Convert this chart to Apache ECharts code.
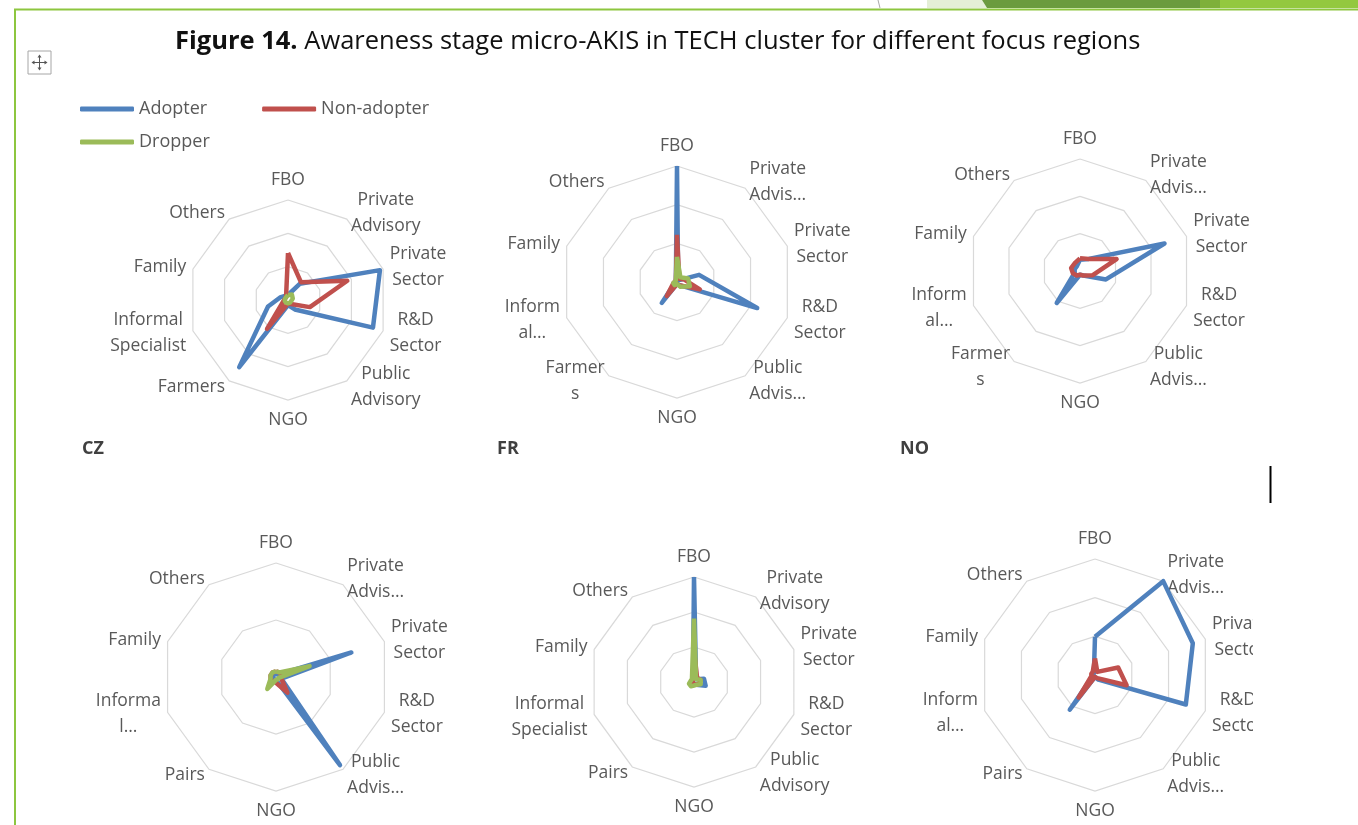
<!DOCTYPE html>
<html>
<head>
<meta charset="utf-8">
<title>Figure 14</title>
<script src="https://cdn.jsdelivr.net/npm/echarts@6/dist/echarts.min.js"></script>
<style>
  html, body { margin: 0; padding: 0; background: #fff; }
  #main { width: 1358px; height: 825px; }
</style>
</head>
<body>
<div id="main"></div>
<script>
// legend groups
const groups = ['Adopter', 'Non-adopter', 'Dropper'];
const groupColors = ['#4F81BD', '#C0504D', '#9BBB59'];

// axis labels, clockwise from the top (as wrapped/cut in the original)
const czLabels = ['FBO', 'Private\nAdvisory', 'Private\nSector', 'R&D\nSector', 'Public\nAdvisory', 'NGO', 'Farmers', 'Informal\nSpecialist', 'Family', 'Others'];
const frLabels = ['FBO', 'Private\nAdvis…', 'Private\nSector', 'R&D\nSector', 'Public\nAdvis…', 'NGO', 'Farmer\ns', 'Inform\nal…', 'Family', 'Others'];
const noLabels = ['FBO', 'Private\nAdvis…', 'Private\nSector', 'R&D\nSector', 'Public\nAdvis…', 'NGO', 'Farmer\ns', 'Inform\nal…', 'Family', 'Others'];
const blLabels = ['FBO', 'Private\nAdvis…', 'Private\nSector', 'R&D\nSector', 'Public\nAdvis…', 'NGO', 'Pairs', 'Informa\nl…', 'Family', 'Others'];
const bmLabels = ['FBO', 'Private\nAdvisory', 'Private\nSector', 'R&D\nSector', 'Public\nAdvisory', 'NGO', 'Pairs', 'Informal\nSpecialist', 'Family', 'Others'];
const brLabels = ['FBO', 'Private\nAdvis…', 'Private\nSector', 'R&D\nSector', 'Public\nAdvis…', 'NGO', 'Pairs', 'Inform\nal…', 'Family', 'Others'];

// values (same order as the labels)
const czAdopter    = [0.15, 0.6, 2.9, 2.68, 0.35, 0.15, 2.49, 0.63, 0.25, 0.15];
const czNonAdopter = [1.41, 0.66, 1.87, 0.69, 0.15, 0.1, 1.07, 0.15, 0.1, 0.1];
const czDropper    = [0.15, 0.2, 0.15, 0.1, 0.1, 0.1, 0.1, 0.1, 0.1, 0.1];

const frAdopter    = [3.0, 0.05, 0.6, 2.18, 0.1, 0.05, 0.67, 0.05, 0.05, 0.05];
const frNonAdopter = [1.22, 0.1, 0.2, 0.62, 0.1, 0.05, 0.45, 0.1, 0.05, 0.05];
const frDropper    = [0.65, 0.15, 0.3, 0.35, 0.15, 0.05, 0.1, 0.1, 0.05, 0.05];

const noAdopter    = [0.3, 0.4, 2.38, 0.73, 0.15, 0.1, 1.06, 0.15, 0.15, 0.15];
const noNonAdopter = [0.34, 0.4, 1.03, 0.36, 0.15, 0.1, 0.15, 0.2, 0.25, 0.25];
const noDropper    = [0, 0, 0, 0, 0, 0, 0, 0, 0, 0];

const blAdopter    = [0.05, 0.05, 1.39, 0.1, 1.91, 0.05, 0.05, 0.05, 0.05, 0.05];
const blNonAdopter = [0.1, 0.1, 0.1, 0.1, 0.34, 0.1, 0.1, 0.1, 0.1, 0.1];
const blDropper    = [0.1, 0.1, 0.62, 0.05, 0.05, 0.05, 0.26, 0.1, 0.1, 0.1];

const bmAdopter    = [3.0, 0.1, 0.3, 0.35, 0.1, 0.05, 0.05, 0.05, 0.05, 0.05];
const bmNonAdopter = [0.9, 0.15, 0.2, 0.15, 0.1, 0.05, 0.05, 0.05, 0.05, 0.05];
const bmDropper    = [1.81, 0.1, 0.2, 0.2, 0.1, 0.1, 0.15, 0.15, 0.1, 0.1];

const brAdopter    = [0.99, 3.0, 2.66, 2.47, 0.15, 0.05, 1.11, 0.05, 0.05, 0.05];
const brNonAdopter = [0.43, 0.1, 0.63, 0.86, 0.1, 0.05, 0.72, 0.1, 0.1, 0.1];
const brDropper    = [0, 0, 0, 0, 0, 0, 0, 0, 0, 0];

const regionNames = ['CZ', 'FR', 'NO'];

// echarts radar runs counter-clockwise, the original runs clockwise
function clockwise(arr) {
  return [arr[0]].concat(arr.slice(1).reverse());
}

const FONT = '"Open Sans", "DejaVu Sans", sans-serif';

function makeRadar(center, radius, labels, max, split) {
  return {
    center: center,
    radius: radius,
    startAngle: 90,
    shape: 'polygon',
    splitNumber: split,
    indicator: clockwise(labels).map(n => ({ name: n, min: 0, max: max })),
    axisName: {
      // each wrapped line centred inside its label block, like excel does
      formatter: v => v.split('\n').map(s => '{c|' + s + '}').join('\n'),
      color: '#595959', fontSize: 17.5, lineHeight: 26, fontFamily: FONT,
      rich: { c: { align: 'center', color: '#595959', fontSize: 17.5, lineHeight: 26, fontFamily: FONT } }
    },
    nameGap: 7,
    axisLine: { show: false },
    axisTick: { show: false },
    axisLabel: { show: false },
    splitArea: { show: false },
    splitLine: { lineStyle: { color: '#D9D9D9', width: 1.2 } }
  };
}

function makeSeries(idx, lists) {
  return {
    type: 'radar',
    radarIndex: idx,
    symbol: 'none',
    silent: true,
    data: lists.map((vals, k) => ({
      name: groups[k],
      value: clockwise(vals),
      itemStyle: { color: groupColors[k] },
      lineStyle: { color: groupColors[k], width: 4.5, join: 'round' }
    }))
  };
}

const chart = echarts.init(document.getElementById('main'));

const regionTitle = (name, x) => ({
  text: name, left: x, top: 440, padding: 0,
  textStyle: { fontFamily: FONT, fontSize: 18, fontWeight: 'bold', color: '#404040' }
});

const option = {
  animation: false,
  backgroundColor: '#fff',
  title: [
    {
      text: '{b|Figure 14.} Awareness stage micro-AKIS in TECH cluster for different focus regions',
      left: 175, top: 29, padding: 0,
      textStyle: {
        fontFamily: FONT, fontSize: 25.5, fontWeight: 'normal', color: '#111',
        rich: { b: { fontFamily: FONT, fontSize: 25.5, fontWeight: 'bold', color: '#111' } }
      }
    },
    regionTitle(regionNames[0], 82),
    regionTitle(regionNames[1], 497),
    regionTitle(regionNames[2], 900)
  ],
  legend: [
    {
      data: groups.slice(0, 2), left: 80, top: 100, padding: 0, icon: 'roundRect',
      itemWidth: 54, itemHeight: 5, itemGap: 55, selectedMode: false,
      textStyle: { fontFamily: FONT, fontSize: 18, color: '#595959' }
    },
    {
      data: groups.slice(2), left: 80, top: 133, padding: 0, icon: 'roundRect',
      itemWidth: 54, itemHeight: 5, selectedMode: false,
      textStyle: { fontFamily: FONT, fontSize: 18, color: '#595959' }
    }
  ],
  radar: [
    makeRadar([288, 300], 100, czLabels, 3, 3),
    makeRadar([677, 282], 116, frLabels, 3, 3),
    makeRadar([1080, 271], 112, noLabels, 3, 3),
    makeRadar([276, 677], 114, blLabels, 2, 2),
    makeRadar([694, 682], 105, bmLabels, 3, 3),
    makeRadar([1095, 675], 116, brLabels, 3, 3)
  ],
  series: [
    makeSeries(0, [czAdopter, czNonAdopter, czDropper]),
    makeSeries(1, [frAdopter, frNonAdopter, frDropper]),
    makeSeries(2, [noAdopter, noNonAdopter, noDropper]),
    makeSeries(3, [blAdopter, blNonAdopter, blDropper]),
    makeSeries(4, [bmAdopter, bmNonAdopter, bmDropper]),
    makeSeries(5, [brAdopter, brNonAdopter, brDropper])
  ],
  graphic: [
    // page frame of the document
    { type: 'line', shape: { x1: 14, y1: 9.5, x2: 1358, y2: 9.5 }, style: { stroke: '#8DC63F', lineWidth: 2 } },
    { type: 'line', shape: { x1: 15, y1: 9, x2: 15, y2: 825 }, style: { stroke: '#8DC63F', lineWidth: 2 } },
    { type: 'line', shape: { x1: 878, y1: 0, x2: 880, y2: 8 }, style: { stroke: '#aaaaaa', lineWidth: 1 } },
    { type: 'polygon', shape: { points: [[927, 0], [982, 0], [987, 8], [927, 8]] }, style: { fill: '#E4EFD6' } },
    { type: 'polygon', shape: { points: [[982, 0], [1200, 0], [1200, 8], [987, 8]] }, style: { fill: '#6B9B3E' } },
    { type: 'rect', shape: { x: 1200, y: 0, width: 20, height: 8 }, style: { fill: '#7EB03A' } },
    { type: 'rect', shape: { x: 1220, y: 0, width: 138, height: 8 }, style: { fill: '#93C83F' } },
    // table move handle
    { type: 'rect', shape: { x: 28, y: 51, width: 23, height: 23 }, style: { fill: '#fff', stroke: '#a6a6a6', lineWidth: 1 } },
    { type: 'line', shape: { x1: 33, y1: 62.5, x2: 46, y2: 62.5 }, style: { stroke: '#555', lineWidth: 1 } },
    { type: 'line', shape: { x1: 39.5, y1: 56, x2: 39.5, y2: 69 }, style: { stroke: '#555', lineWidth: 1 } },
    { type: 'polygon', shape: { points: [[39.5, 54.5], [37.5, 57.5], [41.5, 57.5]] }, style: { fill: '#555' } },
    { type: 'polygon', shape: { points: [[39.5, 70.5], [37.5, 67.5], [41.5, 67.5]] }, style: { fill: '#555' } },
    { type: 'polygon', shape: { points: [[31.5, 62.5], [34.5, 60.5], [34.5, 64.5]] }, style: { fill: '#555' } },
    { type: 'polygon', shape: { points: [[47.5, 62.5], [44.5, 60.5], [44.5, 64.5]] }, style: { fill: '#555' } },
    // text cursor
    { type: 'line', shape: { x1: 1270.5, y1: 466, x2: 1270.5, y2: 503 }, style: { stroke: '#000', lineWidth: 2 } },
    // the last chart box cuts its labels on the right
    { type: 'rect', z: 100, shape: { x: 1253, y: 605, width: 105, height: 135 }, style: { fill: '#fff' } }
  ]
};

chart.setOption(option);
</script>
</body>
</html>
